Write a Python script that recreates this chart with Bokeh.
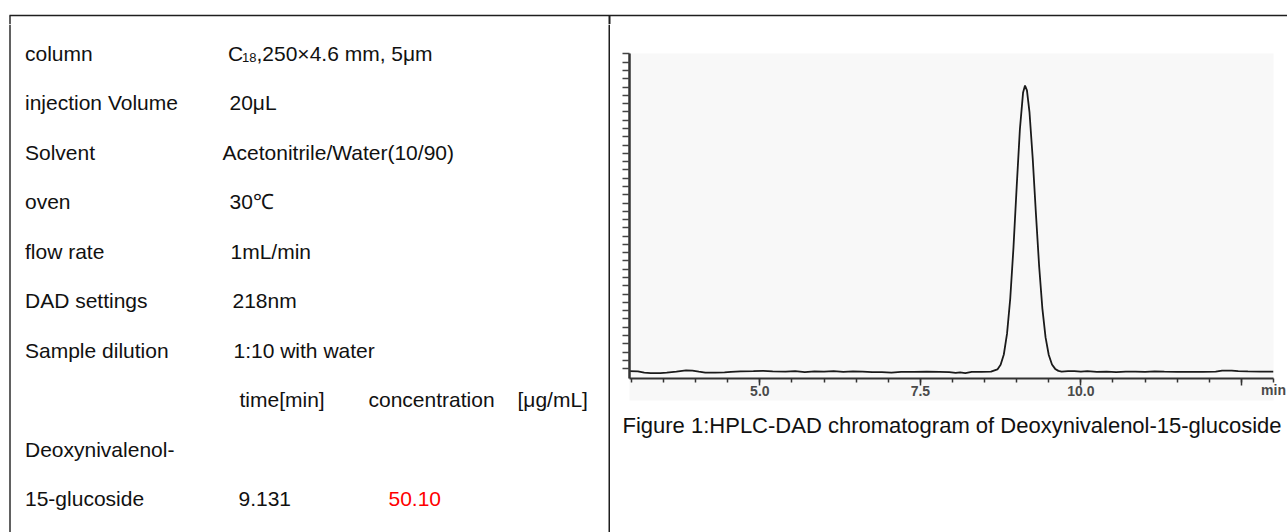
import numpy as np
from bokeh.plotting import figure
from bokeh.models import Range1d, FixedTicker, ColumnDataSource
from bokeh.layouts import column, row
from bokeh.embed import file_html
from bokeh.resources import INLINE
from bokeh.core.properties import value

# ---------------- data ----------------
param_labels = ["column", "injection Volume", "Solvent", "oven", "flow rate",
                "DAD settings", "Sample dilution"]
param_values = [None, "20\u03bcL", "Acetonitrile/Water(10/90)", "30\u2103", "1mL/min",
                "218nm", "1:10 with water"]
column_phase = "C"
column_phase_sub = "18"
column_spec = ",250\u00d74.6 mm, 5\u03bcm"
result_headers = ["time[min]", "concentration", "[\u03bcg/mL]"]
compound_name = ["Deoxynivalenol-", "15-glucoside"]
retention_time = "9.131"
concentration = "50.10"
caption_text = "Figure 1:HPLC-DAD chromatogram of Deoxynivalenol-15-glucoside"

x_major_ticks = [5.0, 7.5, 10.0, 12.5]
x_tick_labels = {5.0: "5.0", 7.5: "7.5", 10.0: "10.0", 12.5: ""}
x_unit = "min"

time_min = [2.97, 3.10, 3.20, 3.30, 3.45, 3.55, 3.70, 3.85, 3.95, 4.05,
            4.15, 4.30, 4.45, 4.55, 4.70, 4.90, 5.05, 5.20, 5.40, 5.55,
            5.70, 5.85, 6.00, 6.15, 6.30, 6.45, 6.60, 6.75, 6.90, 7.05,
            7.20, 7.40, 7.60, 7.80, 7.95, 8.05, 8.12, 8.20, 8.30, 8.45,
            8.60, 8.70, 8.75, 8.80, 8.85, 8.90, 8.95, 9.00, 9.05, 9.10,
            9.13, 9.16, 9.20, 9.25, 9.30, 9.35, 9.40, 9.45, 9.50, 9.55,
            9.60, 9.65, 9.70, 9.80, 9.90, 10.00, 10.10, 10.25, 10.40, 10.55,
            10.70, 10.85, 11.00, 11.15, 11.30, 11.50, 11.70, 11.90, 12.10, 12.20,
            12.35, 12.45, 12.60, 12.80, 13.00]
signal_mAU = [-1.6, -1.7, -2.5, -2.8, -2.7, -2.4, -1.8, -1.1, -1.3, -1.9,
              -2.4, -2.5, -2.3, -2.0, -1.7, -1.6, -1.4, -1.7, -1.8, -1.6,
              -2.1, -1.7, -1.9, -1.6, -2.0, -1.7, -1.8, -2.2, -2.1, -2.4,
              -2.0, -2.0, -1.9, -2.0, -2.1, -2.6, -2.3, -2.7, -2.0, -2.0,
              -1.9, -0.5, 2.3, 8.5, 21.1, 42.3, 73.0, 109.7, 144.4, 166.8,
              171.0, 168.0, 154.7, 126.9, 93.5, 61.8, 36.4, 18.8, 8.2, 2.5,
              -0.2, -1.4, -1.8, -1.6, -1.5, -1.8, -1.6, -2.0, -1.8, -2.2,
              -1.9, -1.8, -2.0, -1.7, -1.9, -2.0, -2.0, -2.0, -1.9, -1.3,
              -1.2, -1.6, -1.7, -1.8, -1.8]

# ---------------- layout constants (screen pixels) ----------------
FONT = "Liberation Sans"
TXT = "#111111"
LINE = "#1e1e1e"
FS = "21px"
W, H = 1287, 532
TOP_H = 24
DIV_X = 610
ROW0, ROWSTEP = 52.5, 49.5
row_y = [ROW0 + i * ROWSTEP for i in range(10)]
LABEL_X = 24.5
value_x = [227.5, 229.0, 222.0, 229.0, 230.0, 232.0, 233.0]
CHROM_H = 380


def no_align(f):
    if "frame_align" in f.properties():
        f.frame_align = False


def canvas_fig(w, h, x0, x1, y0, y1):
    f = figure(width=w, height=h, x_range=Range1d(x0, x1), y_range=Range1d(y1, y0),
               output_backend="svg", toolbar_location=None, min_border=0,
               x_axis_location=None, y_axis_location=None)
    f.outline_line_color = None
    f.grid.visible = False
    f.background_fill_color = "white"
    f.border_fill_color = "white"
    no_align(f)
    return f


def put_text(f, xs, ys, texts, size=FS, color=TXT, baseline="middle"):
    src = ColumnDataSource(dict(x=xs, y=ys, t=texts))
    f.text(x="x", y="y", text="t", source=src, text_font=value(FONT),
           text_font_size=size, text_color=color, text_baseline=baseline,
           text_align="left")


# top strip (screen y 0..24)
top = canvas_fig(W, TOP_H, 0, W, 0, TOP_H)
top.segment(x0=[9], y0=[15], x1=[W], y1=[15], line_color=LINE, line_width=1.6)
top.segment(x0=[9.5, 609], y0=[15, 15], x1=[9.5, 609], y1=[TOP_H, TOP_H],
            line_color=LINE, line_width=[1.4, 2.0])

# left table cell (screen x 0..610, y 24..532)
left = canvas_fig(DIV_X, H - TOP_H, 0, DIV_X, TOP_H, H)
left.segment(x0=[9.5, 609], y0=[TOP_H, TOP_H], x1=[9.5, 609], y1=[H, H],
             line_color=LINE, line_width=[1.4, 2.0])
put_text(left, [LABEL_X] * len(param_labels), row_y[:7], param_labels)
put_text(left, value_x[1:], row_y[1:7], param_values[1:])
put_text(left, [value_x[0]], [row_y[0]], [column_phase])
put_text(left, [value_x[0] + 14.0], [row_y[0] + 4.0], [column_phase_sub], size="13px")
put_text(left, [value_x[0] + 28.5], [row_y[0]], [column_spec])
put_text(left, [239.0, 368.0, 517.0], [row_y[7]] * 3, result_headers)
put_text(left, [LABEL_X, LABEL_X], row_y[8:10], compound_name)
put_text(left, [238.0], [row_y[9]], [retention_time])
put_text(left, [388.0], [row_y[9]], [concentration], color="#ff0000")

# chromatogram (screen x 610..1287, y 24..404); frame x 629..1273, y 53..378
chrom = figure(width=W - DIV_X, height=CHROM_H, x_range=Range1d(2.97, 13.0),
               y_range=Range1d(-6, 190.3),
               output_backend="svg", toolbar_location=None,
               min_border_left=19, min_border_right=14, min_border_top=29, min_border_bottom=26)
no_align(chrom)
chrom.background_fill_color = "#f8f8f8"
chrom.border_fill_color = "white"
chrom.outline_line_color = None
chrom.grid.visible = False
chrom.line(time_min, signal_mAU, line_color="#1a1a1a", line_width=1.8)

xa = chrom.xaxis[0]
xa.ticker = FixedTicker(ticks=x_major_ticks, minor_ticks=list(np.arange(3.0, 13.01, 0.5)))
xa.axis_line_color = "#333333"
xa.axis_line_width = 2
xa.major_tick_line_color = "#333333"
xa.major_tick_line_width = 1.5
xa.minor_tick_line_color = "#333333"
xa.minor_tick_line_width = 1.5
xa.major_tick_in = 0
xa.major_tick_out = 7
xa.minor_tick_in = 0
xa.minor_tick_out = 4
xa.major_label_standoff = 0
xa.major_label_text_font = FONT
xa.major_label_text_font_size = "14px"
xa.major_label_text_font_style = "bold"
xa.major_label_text_color = "#4a4a4a"
if "background_fill_color" in xa.properties():
    xa.background_fill_color = "#f8f8f8"
xa.major_label_overrides = x_tick_labels
xa.axis_label = x_unit
xa.axis_label_align = "end"
xa.axis_label_standoff = -17
xa.axis_label_text_font = FONT
xa.axis_label_text_font_size = "14px"
xa.axis_label_text_font_style = "bold"
xa.axis_label_text_color = "#4a4a4a"

ya = chrom.yaxis[0]
y_ticks = list(np.arange(0, 190.1, 5.0))
ya.ticker = FixedTicker(ticks=y_ticks, minor_ticks=[])
ya.major_label_overrides = {t: "" for t in y_ticks}
ya.major_label_text_color = None
ya.axis_line_color = "#333333"
ya.axis_line_width = 2.5
ya.major_tick_line_color = "#444444"
ya.major_tick_line_width = 1.3
ya.major_tick_in = 0
ya.major_tick_out = 7
ya.major_label_standoff = 0

# caption (screen x 610..1287, y 404..532)
cap = canvas_fig(W - DIV_X, H - TOP_H - CHROM_H, DIV_X, W, TOP_H + CHROM_H, H)
put_text(cap, [622.0], [425.0], [caption_text], size="22px")

layout = column(top, row(left, column(chrom, cap, spacing=0), spacing=0), spacing=0)
open("out.html", "w").write(file_html(layout, INLINE))
